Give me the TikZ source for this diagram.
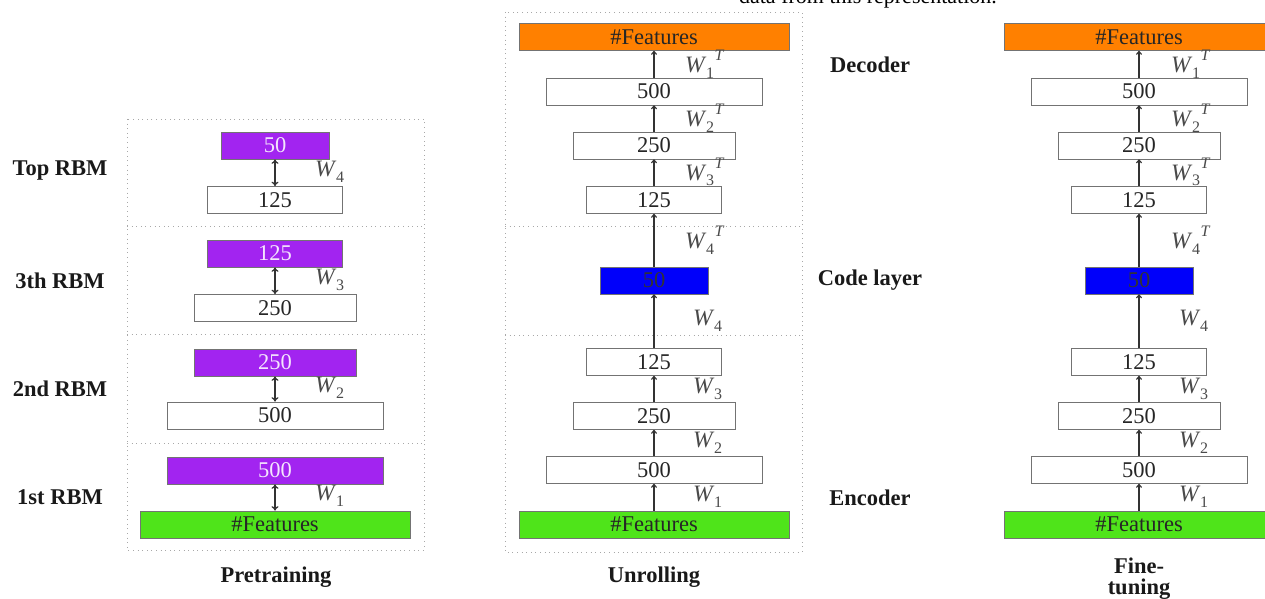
\documentclass[tikz,border=0pt]{standalone}
\usepackage{fontspec}
\setmainfont{Liberation Serif}
\usetikzlibrary{arrows.meta}
\definecolor{rbmpurple}{HTML}{A224F0}
\definecolor{codeblue}{HTML}{0000FA}
\definecolor{outorange}{HTML}{FF8000}
\definecolor{ingreen}{HTML}{4FE41A}
\definecolor{framegray}{HTML}{A8A8A8}
\definecolor{labgray}{HTML}{4A4A4A}
% weight labels: W_i and (W_i)^T
\newcommand{\wsub}[1]{\textit{W}\kern-0.5pt\raisebox{-0.25em}{\fontsize{16}{16}\selectfont #1}}
\newcommand{\wsubT}[1]{\wsub{#1}\kern0.5pt\raisebox{0.5em}{\fontsize{16}{16}\selectfont\textit{T}}}
\tikzset{
  layer/.style={draw=black!55, line width=0.7pt, minimum height=27pt, inner sep=0pt,
    text=black!85, font=\fontsize{22.5}{24}\selectfont},
  rbm/.style={layer, fill=rbmpurple, text=white!88!rbmpurple},
  code/.style={layer, fill=codeblue, text=black!80},
  outlayer/.style={layer, fill=outorange},
  inlayer/.style={layer, fill=ingreen},
  wlab/.style={anchor=west, inner sep=0pt, text=labgray, font=\fontsize{23.5}{24}\selectfont},
  frame/.style={draw=framegray, line width=0.8pt, dash pattern=on 1pt off 3.6pt},
  side/.style={font=\fontsize{22.5}{24}\selectfont\bfseries, text=black!90},
  dbl/.style={{To[length=4.5pt,width=7pt]}-{To[length=4.5pt,width=7pt]}, line width=1.3pt, black!80},
  fwd/.style={-{To[length=4pt,width=6pt]}, line width=1.1pt, black!80},
}
\begin{document}
\begin{tikzpicture}[x=1pt, y=-1pt]
\useasboundingbox (0,0) rectangle (1265,599);
\clip (0,0) rectangle (1265,599);

% running text of the page above the figure
\node[anchor=base, inner sep=0pt, font=\fontsize{22}{24}\selectfont] (pagetext) at (868,4) {data from this representation.};

% ---------------- Pretraining: stacked RBMs ----------------
\draw[frame] (127,119) rectangle (424,550);
\draw[frame] (127,226) -- (424,226);
\draw[frame] (127,334) -- (424,334);
\draw[frame] (127,443) -- (424,443);

\node[rbm, minimum width=108pt] (p4a) at (275,145.5) {50};
\node[layer, minimum width=135pt] (p4b) at (275,200) {125};
\node[rbm, minimum width=135pt] (p3a) at (275,253.5) {125};
\node[layer, minimum width=162pt] (p3b) at (275,308) {250};
\node[rbm, minimum width=162pt] (p2a) at (275,362.5) {250};
\node[layer, minimum width=216pt] (p2b) at (275,415.5) {500};
\node[rbm, minimum width=216pt] (p1a) at (275,470.5) {500};
\node[inlayer, minimum width=270pt] (p1b) at (275,524.5) {\#Features};

\draw[dbl] (p4a.south) -- (p4b.north);
\draw[dbl] (p3a.south) -- (p3b.north);
\draw[dbl] (p2a.south) -- (p2b.north);
\draw[dbl] (p1a.south) -- (p1b.north);

\node[wlab] (pw4) at (315,172) {\wsub{4}};
\node[wlab] (pw3) at (315,280) {\wsub{3}};
\node[wlab] (pw2) at (315,388) {\wsub{2}};
\node[wlab] (pw1) at (315,496) {\wsub{1}};

\node[side] (top) at (60,171) {Top RBM};
\node[side] (third) at (60,281) {3th RBM};
\node[side] (second) at (60,389) {2nd RBM};
\node[side] (first) at (60,497) {1st RBM};
\node[side] (pre) at (276,577) {Pretraining};

% ---------------- Unrolling ----------------
\draw[frame] (505,12) rectangle (802,552);
\draw[frame] (505,226) -- (802,226);
\draw[frame] (505,335) -- (802,335);

\node[outlayer, minimum width=270pt] (uout) at (654,37) {\#Features};
\node[layer, minimum width=216pt] (ud500) at (654,91.5) {500};
\node[layer, minimum width=162pt] (ud250) at (654,145.5) {250};
\node[layer, minimum width=135pt] (ud125) at (654,200) {125};
\node[code, minimum width=108pt] (ucode) at (654,280.5) {50};
\node[layer, minimum width=135pt] (ue125) at (654,362) {125};
\node[layer, minimum width=162pt] (ue250) at (654,416) {250};
\node[layer, minimum width=216pt] (ue500) at (654,470) {500};
\node[inlayer, minimum width=270pt] (uin) at (654,524.5) {\#Features};

\draw[fwd] (uin.north) -- (ue500.south);
\draw[fwd] (ue500.north) -- (ue250.south);
\draw[fwd] (ue250.north) -- (ue125.south);
\draw[fwd] (ue125.north) -- (ucode.south);
\draw[fwd] (ucode.north) -- (ud125.south);
\draw[fwd] (ud125.north) -- (ud250.south);
\draw[fwd] (ud250.north) -- (ud500.south);
\draw[fwd] (ud500.north) -- (uout.south);

\node[wlab] (uw1t) at (685,64) {\wsubT{1}};
\node[wlab] (uw2t) at (685,118) {\wsubT{2}};
\node[wlab] (uw3t) at (685,172) {\wsubT{3}};
\node[wlab] (uw4t) at (685,240) {\wsubT{4}};
\node[wlab] (uw4) at (693,321) {\wsub{4}};
\node[wlab] (uw3) at (693,389) {\wsub{3}};
\node[wlab] (uw2) at (693,443) {\wsub{2}};
\node[wlab] (uw1) at (693,497) {\wsub{1}};

\node[side] (unr) at (654,577) {Unrolling};

\node[side] (dec) at (870,65) {Decoder};
\node[side] (codel) at (870,280) {Code layer};
\node[side] (enc) at (870,498) {Encoder};

% ---------------- Fine-tuning ----------------
\node[outlayer, minimum width=270pt] (fout) at (1139,37) {\#Features};
\node[layer, minimum width=216pt] (fd500) at (1139,91.5) {500};
\node[layer, minimum width=162pt] (fd250) at (1139,145.5) {250};
\node[layer, minimum width=135pt] (fd125) at (1139,200) {125};
\node[code, minimum width=108pt] (fcode) at (1139,280.5) {50};
\node[layer, minimum width=135pt] (fe125) at (1139,362) {125};
\node[layer, minimum width=162pt] (fe250) at (1139,416) {250};
\node[layer, minimum width=216pt] (fe500) at (1139,470) {500};
\node[inlayer, minimum width=270pt] (fin) at (1139,524.5) {\#Features};

\draw[fwd] (fin.north) -- (fe500.south);
\draw[fwd] (fe500.north) -- (fe250.south);
\draw[fwd] (fe250.north) -- (fe125.south);
\draw[fwd] (fe125.north) -- (fcode.south);
\draw[fwd] (fcode.north) -- (fd125.south);
\draw[fwd] (fd125.north) -- (fd250.south);
\draw[fwd] (fd250.north) -- (fd500.south);
\draw[fwd] (fd500.north) -- (fout.south);

\node[wlab] (fw1t) at (1171,64) {\wsubT{1}};
\node[wlab] (fw2t) at (1171,118) {\wsubT{2}};
\node[wlab] (fw3t) at (1171,172) {\wsubT{3}};
\node[wlab] (fw4t) at (1171,240) {\wsubT{4}};
\node[wlab] (fw4) at (1179,321) {\wsub{4}};
\node[wlab] (fw3) at (1179,389) {\wsub{3}};
\node[wlab] (fw2) at (1179,443) {\wsub{2}};
\node[wlab] (fw1) at (1179,497) {\wsub{1}};

\node[side, align=center, font=\fontsize{22.5}{21}\selectfont\bfseries] (fine) at (1139,579) {Fine-\\tuning};
\end{tikzpicture}
\end{document}
